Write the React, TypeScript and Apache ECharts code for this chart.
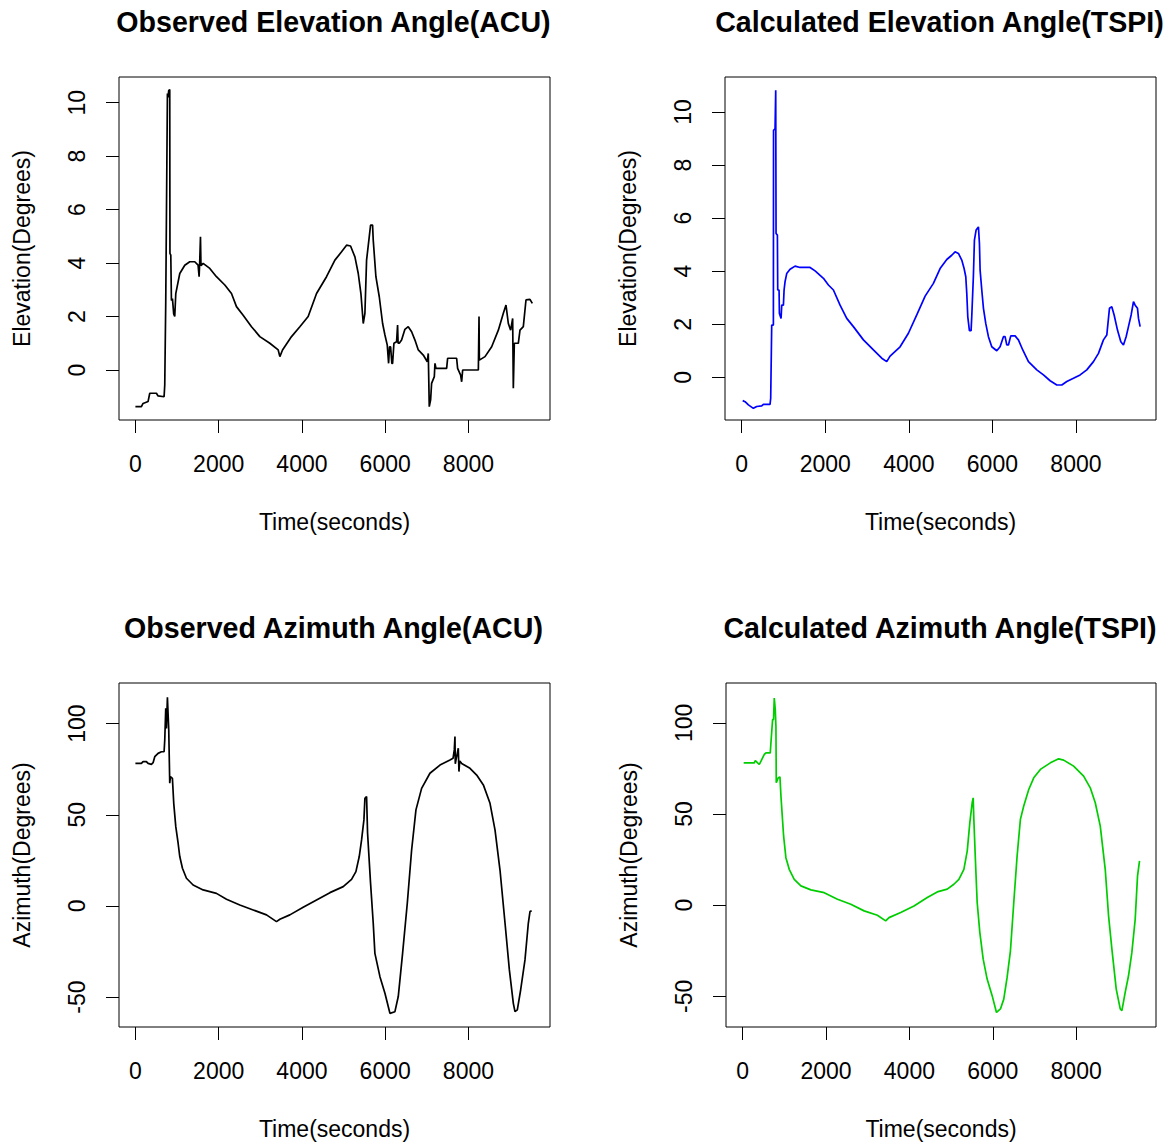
import React, { useEffect, useRef } from "react";
import * as echarts from "echarts";

// ---- data (time in seconds, angle in degrees) ----
const obsElevation: [number, number][] = [
  [0,-1.37],[144,-1.37],[184,-1.25],[304,-1.18],[345,-0.87],[505,-0.87],[545,-0.97],[689,-1.0],[705,-0.56],[729,2.55],[745,2.55],[769,10.34],[785,10.2],[800,10.45],[825,10.49],[830,4.36],[850,4.3],[865,2.6],[890,2.67],[920,2.1],[945,2.0],[970,2.86],[1002,3.11],[1066,3.61],[1186,3.92],[1306,4.05],[1426,4.05],[1506,3.92],[1530,3.49],[1545,4.05],[1563,4.98],[1575,3.9],[1627,3.99],[1787,3.8],[1947,3.49],[2148,3.18],[2308,2.86],[2428,2.37],[2588,2.05],[2789,1.62],[2989,1.25],[3229,1.0],[3430,0.75],[3470,0.5],[3534,0.75],[3750,1.25],[3950,1.62],[4150,2.0],[4351,2.86],[4591,3.49],[4792,4.11],[4952,4.42],[5072,4.67],[5168,4.64],[5273,4.23],[5353,3.61],[5417,2.86],[5473,1.74],[5513,2.12],[5553,4.11],[5617,4.98],[5649,5.42],[5697,5.42],[5713,4.86],[5777,3.49],[5858,2.74],[5938,1.74],[5994,1.31],[6050,0.93],[6082,0.25],[6105,0.87],[6130,0.87],[6160,0.25],[6178,0.25],[6210,1.0],[6274,1.06],[6298,1.68],[6310,1.0],[6338,1.0],[6394,1.12],[6474,1.52],[6554,1.62],[6635,1.43],[6715,1.12],[6795,0.75],[6915,0.56],[7011,0.31],[7035,0.62],[7059,-1.37],[7091,-1.12],[7115,-0.5],[7180,-0.25],[7196,0.25],[7220,0.06],[7476,0.06],[7500,0.44],[7716,0.44],[7740,0.06],[7812,-0.19],[7837,-0.44],[7861,0],[8238,0],[8254,2.0],[8262,0.37],[8398,0.5],[8558,0.87],[8718,1.49],[8838,2.12],[8902,2.43],[8958,1.74],[9014,1.49],[9062,1.93],[9078,-0.68],[9102,1.0],[9198,1.0],[9238,1.49],[9318,1.62],[9382,2.62],[9478,2.64],[9534,2.49]
];

const calcElevation: [number, number][] = [
  [24,-0.88],[80,-0.92],[160,-1.04],[279,-1.17],[359,-1.10],[479,-1.08],[519,-1.02],[678,-1.02],[694,-0.79],[718,1.97],[758,1.97],[762,9.31],[798,9.37],[814,10.82],[822,5.42],[854,5.36],[862,3.29],[894,3.29],[902,2.41],[942,2.22],[958,2.72],[998,2.72],[1014,3.29],[1037,3.6],[1077,3.91],[1157,4.07],[1277,4.19],[1397,4.14],[1636,4.14],[1756,4.01],[1956,3.73],[2075,3.48],[2195,3.29],[2354,2.72],[2514,2.22],[2673,1.91],[2913,1.41],[3152,1.03],[3352,0.72],[3471,0.59],[3551,0.8],[3791,1.15],[3990,1.66],[4190,2.35],[4390,3.06],[4588,3.54],[4748,4.1],[4908,4.44],[5027,4.6],[5107,4.73],[5187,4.67],[5267,4.42],[5323,4.1],[5363,3.79],[5387,3.16],[5411,2.28],[5450,1.76],[5490,1.76],[5506,2.28],[5546,3.85],[5570,5.17],[5610,5.55],[5666,5.67],[5690,5.04],[5706,4.04],[5746,3.29],[5786,2.6],[5841,2.03],[5905,1.53],[5985,1.15],[6105,1.0],[6184,1.15],[6264,1.53],[6304,1.53],[6344,1.22],[6384,1.22],[6440,1.56],[6543,1.56],[6623,1.41],[6727,1.03],[6863,0.59],[7063,0.28],[7222,0.09],[7382,-0.13],[7542,-0.29],[7661,-0.29],[7781,-0.16],[7940,-0.04],[8100,0.09],[8259,0.28],[8419,0.59],[8539,0.9],[8658,1.41],[8738,1.59],[8802,2.6],[8858,2.66],[8914,2.35],[8994,1.78],[9074,1.34],[9137,1.22],[9201,1.53],[9257,1.91],[9321,2.35],[9377,2.85],[9417,2.72],[9473,2.6],[9497,2.22],[9536,1.91]
];

const obsAzimuth: [number, number][] = [
  [0,78.2],[144,78.2],[184,79.2],[264,79.2],[304,78.2],[385,77.7],[425,78.6],[465,81.9],[545,83.7],[625,84.6],[689,84.6],[705,91.0],[729,108.4],[745,97.4],[769,114.4],[801,96.5],[825,67.3],[841,70.9],[889,70.0],[921,56.3],[970,43.5],[1026,34.4],[1066,27.1],[1130,20.7],[1226,15.2],[1386,11.5],[1627,8.8],[1947,6.9],[2188,3.7],[2508,0.5],[2829,-2.2],[3149,-4.9],[3389,-8.6],[3470,-7.3],[3710,-4.9],[4030,-0.7],[4351,3.3],[4672,7.3],[4992,10.6],[5192,14.6],[5297,18.8],[5377,27.1],[5433,36.2],[5489,47.2],[5513,59.0],[5553,60.0],[5577,39.9],[5649,12.4],[5713,-9.5],[5753,-26.0],[5874,-38.8],[5994,-47.9],[6114,-58.9],[6234,-58.0],[6314,-49.7],[6418,-26.0],[6531,1.5],[6635,30.7],[6739,52.7],[6875,64.5],[7075,72.8],[7316,77.3],[7556,80.1],[7630,81],[7660,85.6],[7676,92.9],[7684,78],[7700,80],[7756,86.5],[7772,73.7],[7790,79.5],[7837,78.2],[8037,75.5],[8198,71.8],[8358,66.4],[8518,56.3],[8638,41.7],[8758,19.7],[8879,-9.5],[8983,-35.1],[9078,-53.4],[9118,-58.0],[9174,-57.0],[9254,-46.1],[9358,-29.6],[9438,-9.5],[9478,-3.1],[9518,-2.6]
];

const calcAzimuth: [number, number][] = [
  [24,78.1],[279,78.1],[303,79.4],[359,78.1],[399,77.2],[439,79.0],[519,82.7],[559,83.6],[662,83.6],[678,89.1],[718,101.8],[740,101.8],[758,113.7],[782,107.3],[798,98.2],[806,67.2],[854,69.9],[894,70.4],[918,59.9],[982,38.0],[1037,26.1],[1117,19.7],[1237,14.2],[1397,10.6],[1636,8.4],[1956,6.9],[2274,3.3],[2594,0.5],[2913,-3.1],[3232,-5.5],[3431,-8.6],[3511,-6.8],[3791,-4.0],[4110,-0.4],[4429,4.2],[4668,7.3],[4908,8.8],[5067,11.5],[5187,14.2],[5307,19.7],[5387,29.7],[5450,45.3],[5506,56.2],[5530,58.9],[5546,47.1],[5586,23.4],[5626,1.5],[5690,-15.0],[5770,-29.6],[5865,-40.5],[5985,-49.6],[6089,-58.8],[6184,-56.9],[6264,-51.5],[6344,-39.6],[6424,-25.0],[6504,1.5],[6584,27.0],[6663,47.1],[6743,54.4],[6863,63.5],[6983,69.9],[7142,74.5],[7382,78.1],[7581,80.3],[7701,79.6],[7940,76.3],[8180,70.8],[8339,64.4],[8459,56.2],[8579,43.4],[8698,19.7],[8778,-5.8],[8858,-24.1],[8962,-46.0],[9058,-56.9],[9098,-57.8],[9177,-47.8],[9257,-38.7],[9337,-25.9],[9417,-7.7],[9473,16.1],[9521,24.3]
];

const timeTicks = [0, 2000, 4000, 6000, 8000];
const elevationTicks = [0, 2, 4, 6, 8, 10];
const azimuthTicks = [-50, 0, 50, 100];

const titles = [
  "Observed Elevation Angle(ACU)",
  "Calculated Elevation Angle(TSPI)",
  "Observed Azimuth Angle(ACU)",
  "Calculated Azimuth Angle(TSPI)",
];
const xTitle = "Time(seconds)";
const yTitles = ["Elevation(Degrees)", "Elevation(Degrees)", "Azimuth(Degrees)", "Azimuth(Degrees)"];

// ---- layout / styling ----
const FONT = "'Liberation Sans', Arial, Helvetica, sans-serif";
const panels = [
  { data: obsElevation, color: "#000000", yTicks: elevationTicks, left: 119, top: 77, width: 431, height: 343, xMin: -394, xMax: 9959, yMin: -1.87, yMax: 10.96 },
  { data: calcElevation, color: "#0000FF", yTicks: elevationTicks, left: 725, top: 77, width: 431, height: 343, xMin: -400, xMax: 9916, yMin: -1.61, yMax: 11.32 },
  { data: obsAzimuth, color: "#000000", yTicks: azimuthTicks, left: 119, top: 683, width: 431, height: 344, xMin: -394, xMax: 9959, yMin: -66.4, yMax: 122.3 },
  { data: calcAzimuth, color: "#00CD00", yTicks: azimuthTicks, left: 726, top: 683, width: 430, height: 344, xMin: -400, xMax: 9916, yMin: -66.8, yMax: 121.9 },
];

export default function App() {
  const ref = useRef<HTMLDivElement>(null);
  useEffect(() => {
    if (!ref.current) return;
    const chart = echarts.init(ref.current, null, { renderer: "svg" });
    const tickStyle = { show: true, length: 13, inside: false, lineStyle: { color: "#000", width: 1 } };
    const labelBase = { color: "#000", fontSize: 23, fontFamily: FONT };
    chart.setOption({
      animation: false,
      backgroundColor: "#ffffff",
      grid: panels.map((p) => ({
        left: p.left, top: p.top, width: p.width, height: p.height,
        show: true, borderColor: "#000", borderWidth: 1, backgroundColor: "transparent",
        containLabel: false,
      })),
      xAxis: panels.map((p, i) => ({
        type: "value", gridIndex: i, min: p.xMin, max: p.xMax, position: "bottom",
        axisLine: { show: false, onZero: false },
        splitLine: { show: false },
        axisTick: { ...tickStyle, customValues: timeTicks },
        axisLabel: { ...labelBase, margin: 32, customValues: timeTicks, formatter: (v: number) => String(v) },
        name: xTitle, nameLocation: "middle", nameGap: 90,
        nameTextStyle: { color: "#000", fontSize: 23, fontFamily: FONT },
      })),
      yAxis: panels.map((p, i) => ({
        type: "value", gridIndex: i, min: p.yMin, max: p.yMax, position: "left",
        axisLine: { show: false, onZero: false },
        splitLine: { show: false },
        axisTick: { ...tickStyle, customValues: p.yTicks },
        axisLabel: { ...labelBase, margin: 31, rotate: 90, customValues: p.yTicks, formatter: (v: number) => String(v) },
        name: yTitles[i], nameLocation: "middle", nameGap: 86, nameRotate: 90,
        nameTextStyle: { color: "#000", fontSize: 23, fontFamily: FONT },
      })),
      series: panels.map((p, i) => ({
        type: "line", xAxisIndex: i, yAxisIndex: i, data: p.data,
        showSymbol: false, symbol: "none", clip: true,
        lineStyle: { color: p.color, width: 1.7 },
        emphasis: { disabled: true },
      })),
      graphic: panels.map((p, i) => ({
        type: "text",
        x: p.left + p.width / 2 - 1,
        y: i < 2 ? 22 : 628,
        style: {
          text: titles[i], fill: "#000",
          fontSize: 28.6, fontWeight: "bold", fontFamily: FONT,
          align: "center", verticalAlign: "middle",
        },
      })),
    });
    return () => chart.dispose();
  }, []);
  return (
    <div
      ref={ref}
      style={{ position: "fixed", left: 0, top: 0, width: 1172, height: 1145, background: "#fff" }}
    />
  );
}
